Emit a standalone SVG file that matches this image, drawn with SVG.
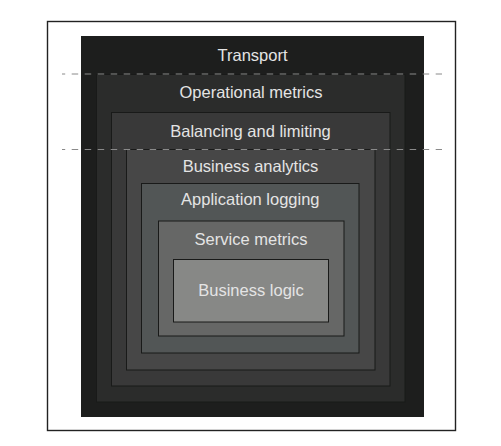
<svg xmlns="http://www.w3.org/2000/svg" width="501" height="446" viewBox="0 0 501 446">
  <style>
    .layer { stroke: #191a19; stroke-width: 1; }
    .lbl { font-family: "Liberation Sans", Arial, sans-serif; font-size: 16.5px; fill: #e4e4e4; text-anchor: middle; }
    .dash { stroke: #8a8a8a; stroke-width: 1; stroke-dasharray: 6.5 6.5; stroke-dashoffset: 3.3; fill: none; }
  </style>
  <rect x="0" y="0" width="501" height="446" fill="#ffffff"/>
  <rect id="frame" x="47.5" y="21.5" width="408" height="409" fill="#ffffff" stroke="#222222" stroke-width="1.4"/>
  <g id="transport">
    <rect x="81" y="36" width="343" height="381" fill="#1d1e1d"/>
    <text class="lbl" x="252.5" y="60.7">Transport</text>
  </g>
  <g id="operational-metrics">
    <rect class="layer" x="96.5" y="74.5" width="308.5" height="327.5" fill="#2b2c2b"/>
    <text class="lbl" x="251" y="98.3">Operational metrics</text>
  </g>
  <g id="balancing-and-limiting">
    <rect class="layer" x="111.5" y="112.5" width="278.5" height="273.5" fill="#393939"/>
    <text class="lbl" x="250.5" y="136.7">Balancing and limiting</text>
  </g>
  <g id="business-analytics">
    <rect class="layer" x="126.5" y="149.5" width="248.5" height="220.5" fill="#474747"/>
    <text class="lbl" x="250.5" y="171.7">Business analytics</text>
  </g>
  <g id="application-logging">
    <rect class="layer" x="141.5" y="183.5" width="217.5" height="169.5" fill="#525656"/>
    <text class="lbl" x="250.3" y="205">Application logging</text>
  </g>
  <g id="service-metrics">
    <rect class="layer" x="158.5" y="221" width="185.5" height="115" fill="#666766"/>
    <text class="lbl" x="251" y="245">Service metrics</text>
  </g>
  <g id="business-logic">
    <rect class="layer" x="173.5" y="259.5" width="155" height="62.5" fill="#878886"/>
    <text class="lbl" x="251" y="296">Business logic</text>
  </g>
  <g id="connectors">
    <line class="dash" x1="62" y1="74" x2="442" y2="74"/>
    <line class="dash" x1="62" y1="149.5" x2="442" y2="149.5"/>
  </g>
</svg>
